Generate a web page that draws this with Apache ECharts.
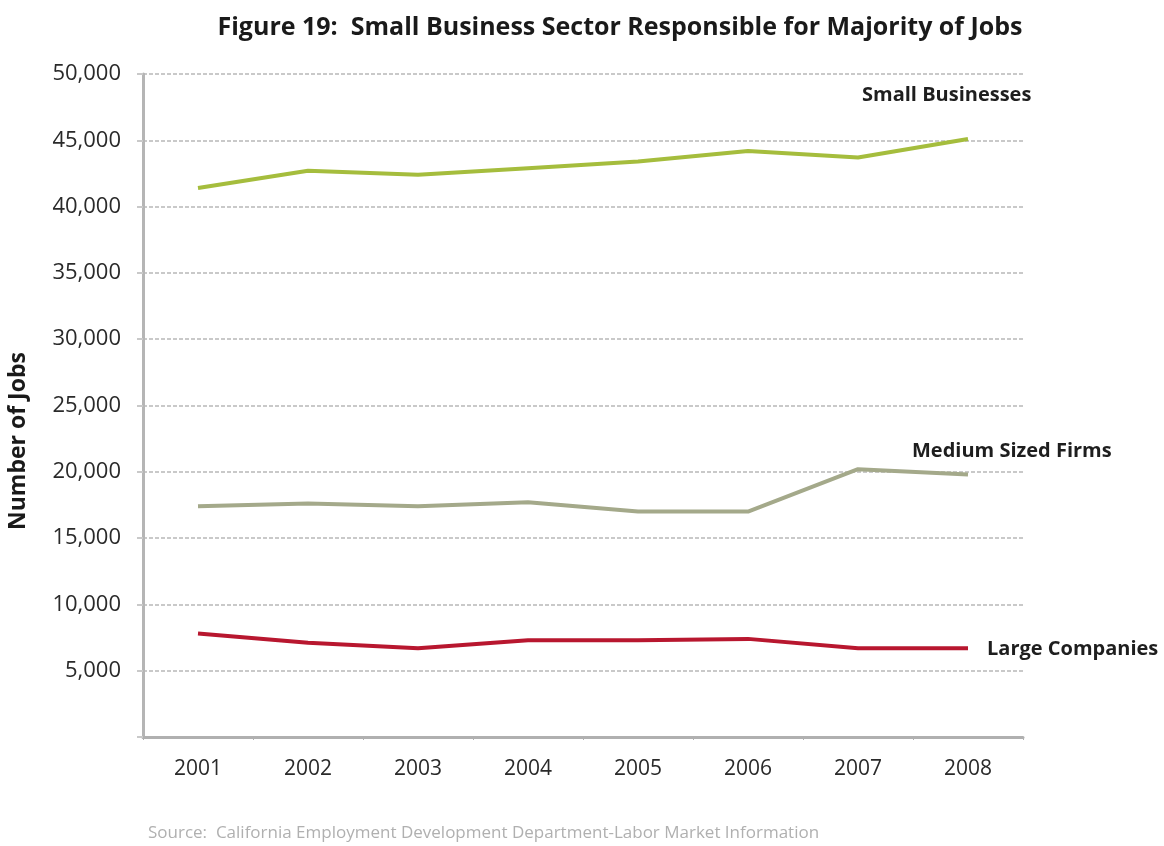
<!DOCTYPE html>
<html>
<head>
<meta charset="utf-8">
<script src="https://cdn.jsdelivr.net/npm/echarts@6/dist/echarts.min.js"></script>
<style>
  html, body { margin: 0; padding: 0; background: #ffffff; }
  #chart { width: 1164px; height: 846px; }
</style>
</head>
<body>
<div id="chart"></div>
<script>
// Jobs by firm size, California, 2001-2008
const years = ['2001', '2002', '2003', '2004', '2005', '2006', '2007', '2008'];
const smallBusinesses = [41400, 42700, 42400, 42900, 43400, 44200, 43700, 45100];
const mediumFirms = [17400, 17600, 17400, 17700, 17000, 17000, 20200, 19800];
const largeCompanies = [7800, 7100, 6700, 7300, 7300, 7400, 6700, 6700];
const yTicks = { min: 0, max: 50000, interval: 5000 };

const FONT = '"Open Sans", "DejaVu Sans", sans-serif';
const gridColor = '#c9c9c9';

// series name drawn next to the end of its line
function endName(name, offset) {
  return {
    show: true, formatter: name, offset: offset, distance: 5,
    fontFamily: FONT, fontWeight: 'bold', fontSize: 20, color: '#1e1e1e'
  };
}

const chart = echarts.init(document.getElementById('chart'), null, { renderer: 'canvas' });

chart.setOption({
  backgroundColor: '#ffffff',
  animation: false,
  title: {
    text: 'Figure 19:  Small Business Sector Responsible for Majority of Jobs',
    left: 615, top: 10, textAlign: 'center',
    textStyle: { fontFamily: FONT, fontWeight: 'bold', fontSize: 25, color: '#1a1a1a' }
  },
  grid: { left: 143, right: 141, top: 74, bottom: 109, containLabel: false },
  xAxis: {
    type: 'category',
    data: years,
    boundaryGap: true,
    axisLine: { lineStyle: { color: '#b0b0b0', width: 3 } },
    axisTick: { show: true, length: 3, lineStyle: { color: '#b0b0b0' } },
    axisLabel: { margin: 22, fontFamily: FONT, fontSize: 21, color: '#2a2a2a' },
    splitLine: { show: false }
  },
  yAxis: {
    type: 'value',
    min: yTicks.min, max: yTicks.max, interval: yTicks.interval,
    axisLine: { show: true, lineStyle: { color: '#b5b5b5', width: 3 } },
    axisTick: { show: true, length: 6, lineStyle: { color: gridColor, width: 2 } },
    axisLabel: {
      margin: 22, fontFamily: FONT, fontSize: 22, color: '#2a2a2a',
      formatter: v => v === 0 ? '' : v.toLocaleString('en-US')
    },
    splitLine: { show: true, lineStyle: { color: gridColor, width: 2, type: [4, 2] } }
  },
  series: [
    {
      name: 'Small Businesses', type: 'line', symbol: 'none',
      lineStyle: { color: '#a5bd3d', width: 4 },
      endLabel: endName('Small Businesses', [-111, -44]),
      data: smallBusinesses
    },
    {
      name: 'Medium Sized Firms', type: 'line', symbol: 'none',
      lineStyle: { color: '#a4a98a', width: 4 },
      endLabel: endName('Medium Sized Firms', [-61, -23]),
      data: mediumFirms
    },
    {
      name: 'Large Companies', type: 'line', symbol: 'none',
      lineStyle: { color: '#b8172f', width: 4 },
      endLabel: endName('Large Companies', [14, 1]),
      data: largeCompanies
    }
  ],
  graphic: [
    {
      type: 'text', x: 18, y: 441, rotation: Math.PI / 2,
      style: {
        text: 'Number of Jobs', align: 'center', verticalAlign: 'middle',
        font: 'bold 23px ' + FONT, fill: '#1a1a1a'
      }
    },
    {
      type: 'text', left: 148, top: 825,
      style: {
        text: 'Source:  California Employment Development Department-Labor Market Information',
        font: '17px ' + FONT, fill: '#b0b0b0'
      }
    }
  ]
});
</script>
</body>
</html>
